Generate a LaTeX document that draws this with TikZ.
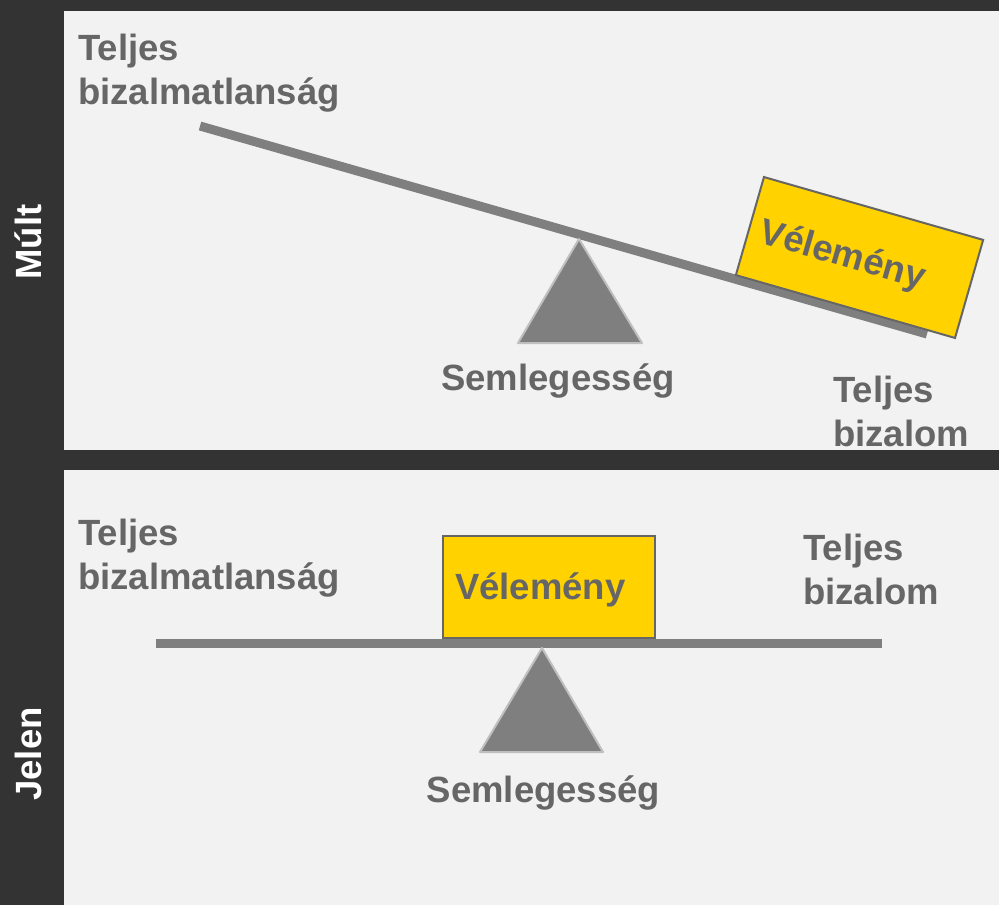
\documentclass[tikz,border=0pt]{standalone}
\usepackage{fontspec}
\setmainfont{Liberation Sans}
\definecolor{bgdark}{HTML}{333333}
\definecolor{panel}{HTML}{F2F2F2}
\definecolor{beamgray}{HTML}{7F7F7F}
\definecolor{txtgray}{HTML}{666666}
\definecolor{edgegray}{HTML}{BFBFBF}
\definecolor{gold}{HTML}{FFD200}
\newcommand{\bigbold}{\bfseries\fontsize{36.5}{44}\selectfont}
\begin{document}
\begin{tikzpicture}[x=1pt, y=-1pt,
    lbl/.style={font=\bigbold, text=txtgray, inner sep=0pt, align=left},
    side/.style={font=\bigbold, text=white, rotate=90, inner sep=0pt},
    opinion/.style={draw=txtgray, line width=2pt, fill=gold, font=\bigbold, text=txtgray,
        inner xsep=12pt, inner ysep=0pt, text depth=0pt, align=left, minimum height=102pt},
    beam/.style={line width=9pt, draw=beamgray},
    pivot/.style={fill=beamgray, draw=edgegray, line width=2pt, line join=round}]
\useasboundingbox (0,0) rectangle (999,905);
\fill[bgdark] (0,0) rectangle (999,905);
\fill[panel] (64,11) rectangle (999,450);
\fill[panel] (64,470) rectangle (999,905);
\node[side] (mult) at (28,242) {Múlt};
\node[side] (jelen) at (28,754) {Jelen};
% past: tilted seesaw
\draw[beam] (200,126) -- (927,334);
\draw[pivot] (579,239) -- (642,343) -- (518,343) -- cycle;
\node[opinion, rotate=-16, text width=204pt] (velemeny1) at (859.5,257.5) {Vélemény};
\node[lbl, anchor=north west] (bizalmatlan1) at (78,34) {Teljes\\bizalmatlanság};
\node[lbl, anchor=north west] (bizalom1) at (833,376) {Teljes\\bizalom};
\node[lbl, anchor=base] (semleges1) at (558,390) {Semlegesség};
% present: level seesaw
\draw[beam] (156,643.5) -- (882,643.5);
\draw[pivot] (542,648) -- (603,752) -- (480,752) -- cycle;
\node[opinion, text width=188pt] (velemeny2) at (549,586.5) {Vélemény};
\node[lbl, anchor=north west] (bizalmatlan2) at (78,519) {Teljes\\bizalmatlanság};
\node[lbl, anchor=north west] (bizalom2) at (803,534) {Teljes\\bizalom};
\node[lbl, anchor=base] (semleges2) at (543.5,802) {Semlegesség};
\end{tikzpicture}
\end{document}
